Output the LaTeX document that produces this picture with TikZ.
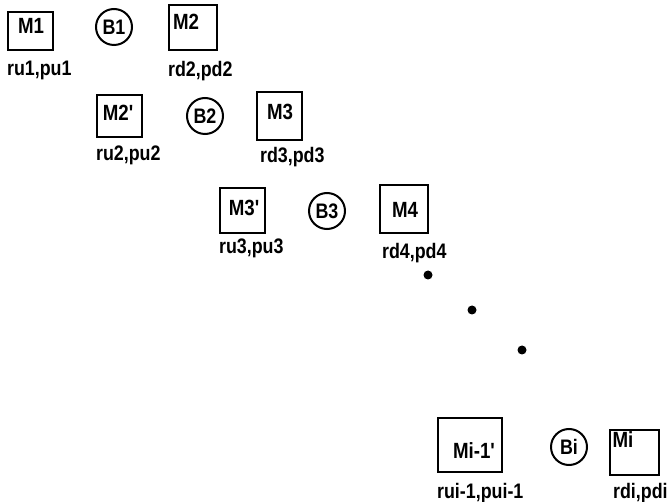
\documentclass[tikz,border=0pt]{standalone}
\usepackage{fontspec}
\newfontfamily\labfont{Liberation Sans}[FakeStretch=0.85]
\usetikzlibrary{positioning}

\begin{document}
\begin{tikzpicture}[x=1pt, y=-1pt,
        machine/.style={draw, line width=2.2pt, inner sep=0pt},
        buffer/.style={draw, circle, line width=2pt, inner sep=0pt, minimum size=36pt,
            font=\labfont\bfseries\fontsize{21}{21}\selectfont},
        tag/.style={inner sep=0pt, font=\labfont\bfseries\fontsize{22}{22}\selectfont},
        rate/.style={inner sep=0pt, font=\labfont\bfseries\fontsize{21}{21}\selectfont},
        dot/.style={circle, fill, inner sep=0pt, minimum size=9pt}]
    \useasboundingbox (0,0) rectangle (669,502);
    % first stage
    \node[machine, minimum width=45pt, minimum height=38pt] (m1) at (30.5, 31) {};
    \node[tag] (m1t) at (31, 26) {M1};
    \node[rate, below right=10pt and 0pt of m1.south west] (m1r) {ru1,pu1};
    \node[buffer] (b1) at (114, 27) {B1};
    \node[machine, minimum width=48pt, minimum height=45pt] (m2) at (193, 27.5) {};
    \node[tag] (m2t) at (186, 22) {M2};
    \node[rate, below right=10pt and 0pt of m2.south west] (m2r) {rd2,pd2};
    % second stage
    \node[machine, minimum width=45pt, minimum height=42pt] (m2p) at (119.5, 116) {};
    \node[tag] (m2pt) at (118, 113) {M2'};
    \node[rate, below right=8pt and 0pt of m2p.south west] (m2pr) {ru2,pu2};
    \node[buffer] (b2) at (205, 116) {B2};
    \node[machine, minimum width=45pt, minimum height=48pt] (m3) at (279.5, 116) {};
    \node[tag] (m3t) at (280, 112) {M3};
    \node[rate, below right=6pt and 4pt of m3.south west] (m3r) {rd3,pd3};
    % third stage
    \node[machine, minimum width=45pt, minimum height=45pt] (m3p) at (242.5, 210.5) {};
    \node[tag] (m3pt) at (244, 208) {M3'};
    \node[rate, below right=5pt and 0pt of m3p.south west] (m3pr) {ru3,pu3};
    \node[buffer] (b3) at (327, 211) {B3};
    \node[machine, minimum width=48pt, minimum height=48pt] (m4) at (404, 209) {};
    \node[tag] (m4t) at (405, 210) {M4};
    \node[rate, below right=9pt and 3pt of m4.south west] (m4r) {rd4,pd4};
    % dots
    \node[dot] (d1) at (428, 275) {};
    \node[dot] (d2) at (472, 310) {};
    \node[dot] (d3) at (522, 350) {};
    % last stage
    \node[machine, minimum width=64pt, minimum height=54pt] (mi1p) at (470, 445) {};
    \node[tag] (mi1pt) at (474, 451) {Mi-1'};
    \node[rate, below right=10pt and 0pt of mi1p.south west] (mi1pr) {rui-1,pui-1};
    \node[buffer] (bi) at (569, 447) {Bi};
    \node[machine, minimum width=49pt, minimum height=45pt] (mi) at (634.5, 452.5) {};
    \node[tag] (mit) at (623, 440) {Mi};
    \node[rate, below right=7pt and 4pt of mi.south west] (mir) {rdi,pdi};
\end{tikzpicture}
\end{document}
